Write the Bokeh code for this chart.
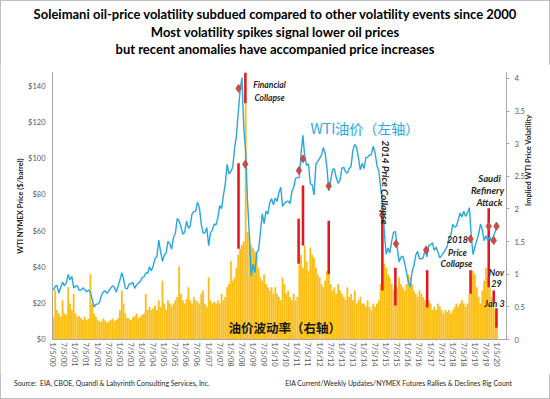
import math
import pandas as pd
from bokeh.plotting import figure
from bokeh.layouts import column
from bokeh.models import (Range1d, LinearAxis, FixedTicker, CustomJSTickFormatter,
                          Label, NumeralTickFormatter, Div)
from bokeh.embed import file_html
from bokeh.resources import INLINE

# ---------------- data ----------------
month_start = "2000-01-01"
n_months = 241

wti_price = [
    27.2, 29.4, 29.9, 25.7, 28.8, 31.8, 29.7, 31.3, 36.0, 33.1, 35.0, 28.5,
    29.6, 29.6, 27.2, 27.4, 28.6, 27.6, 26.4, 27.4, 26.2, 22.2, 18.0, 19.4,
    19.7, 20.7, 24.4, 26.2, 27.0, 25.5, 26.9, 28.4, 29.7, 28.9, 26.3, 29.4,
    32.9, 37.0, 33.6, 28.3, 28.1, 30.7, 30.8, 31.6, 28.3, 30.3, 31.1, 32.2,
    34.3, 34.7, 36.8, 36.7, 40.3, 38.0, 40.7, 44.9, 46.0, 55.0, 48.5, 43.3,
    46.8, 48.0, 54.3, 53.0, 50.0, 56.5, 58.7, 67.0, 65.6, 62.4, 58.3, 59.4,
    65.5, 61.6, 62.7, 69.4, 70.8, 70.9, 76.0, 73.0, 63.8, 58.9, 59.1, 62.0,
    52.0, 59.3, 60.4, 63.9, 63.5, 67.5, 74.1, 72.4, 79.9, 86.2, 97.0, 91.7,
    93.0, 95.4, 105.5, 112.6, 125.4, 138.0, 145.0, 116.7, 104.1, 76.6, 57.3, 35.0,
    41.7, 37.0, 47.9, 49.6, 59.0, 69.6, 64.2, 71.1, 69.4, 75.7, 78.0, 74.5,
    78.3, 76.4, 81.2, 84.3, 73.7, 75.3, 76.3, 76.6, 75.2, 81.9, 84.3, 89.2,
    89.6, 89.7, 102.9, 113.0, 101.3, 96.3, 97.3, 86.3, 85.5, 80.0, 97.2, 98.6,
    100.3, 102.2, 106.2, 103.3, 94.7, 82.3, 87.9, 94.1, 94.5, 89.5, 86.5, 87.9,
    94.8, 95.3, 92.9, 92.0, 94.5, 95.8, 104.6, 108.0, 106.3, 100.5, 93.9, 97.6,
    94.6, 100.8, 100.8, 102.1, 102.2, 107.0, 103.6, 96.5, 93.2, 84.4, 75.8, 59.3,
    47.2, 50.6, 47.8, 54.5, 59.3, 59.8, 50.9, 42.9, 45.5, 46.2, 42.4, 37.2,
    31.7, 29.0, 37.5, 40.8, 46.7, 48.8, 44.7, 44.7, 45.2, 49.8, 45.7, 52.0,
    52.5, 53.5, 49.3, 51.1, 48.5, 45.2, 46.6, 48.0, 49.8, 51.6, 56.6, 57.9,
    63.7, 62.2, 62.7, 66.3, 70.0, 67.9, 71.0, 68.1, 70.2, 73.0, 57.0, 47.0,
    51.4, 55.0, 58.2, 63.9, 60.8, 54.7, 57.4, 54.8, 57.0, 54.0, 57.0, 59.9,
    62.0,
]

implied_vol = [
    0.35, 0.75, 0.45, 0.40, 0.35, 0.60, 0.40, 0.38, 0.80, 0.55, 0.45, 0.70,
    0.40, 0.35, 0.36, 0.33, 0.30, 0.35, 0.30, 0.32, 1.00, 0.55, 0.40, 0.35,
    0.30, 0.28, 0.27, 0.32, 0.29, 0.26, 0.27, 0.30, 0.32, 0.28, 0.30, 0.33,
    0.45, 0.75, 0.55, 0.40, 0.33, 0.32, 0.30, 0.34, 0.36, 0.40, 0.33, 0.35,
    0.38, 0.40, 0.70, 0.45, 0.50, 0.45, 0.48, 0.52, 0.45, 0.60, 0.50, 0.90,
    0.55, 0.45, 0.60, 0.55, 0.50, 0.55, 0.60, 0.65, 1.12, 0.70, 0.60, 0.55,
    0.62, 0.80, 0.60, 0.55, 0.65, 0.60, 0.58, 0.55, 0.70, 0.75, 0.55, 0.50,
    0.95, 0.60, 0.55, 0.58, 0.55, 0.60, 0.55, 0.70, 0.60, 0.65, 0.80, 0.85,
    1.20, 0.90, 0.95, 1.10, 1.30, 1.39, 1.45, 1.50, 3.62, 1.65, 1.60, 1.45,
    1.40, 1.35, 1.30, 1.10, 0.95, 0.90, 1.00, 0.85, 0.80, 0.75, 0.80, 0.70,
    0.80, 0.70, 0.65, 0.60, 0.95, 0.85, 0.70, 0.75, 0.65, 0.60, 0.70, 0.60,
    0.65, 1.15, 1.30, 1.10, 1.44, 1.20, 1.05, 1.41, 1.30, 1.25, 1.10, 1.00,
    0.95, 0.85, 0.80, 0.90, 1.05, 1.00, 0.85, 0.75, 0.80, 0.70, 0.85, 0.75,
    0.70, 0.65, 0.60, 0.80, 0.65, 0.70, 0.60, 0.75, 0.55, 0.60, 0.65, 0.55,
    0.55, 0.50, 0.60, 0.50, 0.45, 0.55, 0.50, 0.55, 0.60, 0.85, 0.75, 1.16,
    1.10, 1.00, 0.95, 0.85, 0.75, 0.52, 0.80, 0.95, 0.85, 0.80, 0.75, 0.85,
    1.00, 0.95, 0.85, 0.75, 0.70, 0.65, 0.75, 0.70, 0.65, 0.60, 0.49, 0.60,
    0.55, 0.45, 0.50, 0.45, 0.55, 0.50, 0.45, 0.40, 0.45, 0.42, 0.45, 0.40,
    0.45, 0.50, 0.55, 0.50, 0.55, 0.60, 0.55, 0.50, 0.55, 0.70, 0.95, 1.05,
    1.00, 0.80, 0.65, 0.55, 0.75, 0.90, 1.10, 0.95, 0.80, 0.65, 0.57, 0.45,
    0.18,
]

spike_dates = ["2008-05-20", "2008-09-10", "2011-02-03", "2011-04-16", "2012-06-13",
               "2014-11-13", "2015-06-15", "2016-11-19", "2018-11-03", "2019-08-29",
               "2019-11-20", "2020-01-04"]
spike_low = [1.39, 3.62, 1.16, 1.44, 1.00, 0.75, 0.52, 0.49, 0.70, 0.80, 0.57, 0.18]
spike_high = [2.70, 4.09, 1.85, 2.36, 1.82, 1.90, 1.10, 1.06, 1.06, 2.01, 0.75, 0.48]

marker_dates = ["2008-05-22", "2008-09-08", "2011-02-08", "2011-04-16", "2012-06-13",
                "2014-11-10", "2015-06-25", "2016-11-03", "2018-11-03", "2019-08-29",
                "2019-11-20", "2020-01-04"]
marker_price = [139, 97, 93.5, 100, 85, 69, 53, 49.6, 55.7, 62.7, 54.8, 62.7]

price_ticks = [0, 20, 40, 60, 80, 100, 120, 140]
vol_ticks = [0, 0.5, 1, 1.5, 2, 2.5, 3, 3.5, 4]
tick_dates = [f"{y}-{m:02d}-05" for y in range(2000, 2020) for m in (1, 7)] + ["2020-01-05"]

title_lines = ["Soleimani oil-price volatility subdued compared to other volatility events since 2000",
               "Most volatility spikes signal lower oil prices",
               "but recent anomalies have accompanied price increases"]
source_left = "Source:&nbsp; EIA, CBOE, Quandl &amp; Labyrinth Consulting Services, Inc."
source_right = "EIA Current/Weekly Updates/NYMEX Futures Rallies &amp; Declines Rig Count"

# ---------------- derived ----------------
months = pd.date_range(month_start, periods=n_months, freq="MS") + pd.Timedelta(days=14)
spike_x = pd.to_datetime(spike_dates)
marker_x = pd.to_datetime(marker_dates)
tick_ms = [pd.Timestamp(t).timestamp() * 1000 for t in tick_dates]
DAY = 86400000

BLUE = "#29A8E0"
GOLD = "#FCBD14"
RED = "#E3171E"
DIAM = "#C94A48"
AX = "#A6A6A6"
LBL = "#595959"
DARK = "#262626"
FONT = "Lato"
CJK = "Noto Sans CJK SC"

p = figure(width=550, height=310, x_axis_type="datetime",
           x_range=Range1d(pd.Timestamp("2000-01-01"), pd.Timestamp("2020-06-17")),
           y_range=Range1d(0, 147.8),
           output_backend="svg", toolbar_location=None,
           min_border_left=52, min_border_right=44, min_border_top=8, min_border_bottom=35)
p.extra_y_ranges = {"vol": Range1d(0, 4.09)}
p.outline_line_color = None
p.xgrid.visible = False
p.ygrid.visible = False
p.background_fill_color = "white"
p.border_fill_color = "white"

# bars
p.vbar(x=months, top=implied_vol, width=30 * DAY, y_range_name="vol",
       fill_color=GOLD, line_color=None)
p.vbar(x=spike_x, bottom=spike_low, top=spike_high, width=42 * DAY, y_range_name="vol",
       fill_color=RED, line_color=None)
# price line
p.line(months, wti_price, line_color=BLUE, line_width=1.4)
p.scatter(marker_x, marker_price, marker="diamond", size=8, fill_color=DIAM, line_color=DIAM)

# axes
xa = p.xaxis[0]
xa.ticker = FixedTicker(ticks=tick_ms)
xa.formatter = CustomJSTickFormatter(code="""
const d = new Date(tick);
return (d.getUTCMonth()+1) + "/" + d.getUTCDate() + "/" + String(d.getUTCFullYear()).slice(2);
""")
xa.major_label_orientation = "vertical"
xa.major_label_text_font = FONT
xa.major_label_text_font_size = "7.5px"
xa.major_label_text_color = LBL
xa.major_label_standoff = 3
xa.major_tick_out = 0
xa.major_tick_in = 0
xa.minor_tick_out = 0
xa.minor_tick_in = 0
xa.axis_line_color = AX

ya = p.yaxis[0]
ya.ticker = FixedTicker(ticks=price_ticks)
ya.formatter = NumeralTickFormatter(format="$0")
ya.major_label_text_font = FONT
ya.major_label_text_font_size = "7.5px"
ya.major_label_text_color = LBL
ya.major_tick_out = 0
ya.major_tick_in = 0
ya.minor_tick_out = 0
ya.minor_tick_in = 0
ya.major_label_standoff = 7
ya.axis_line_color = AX
ya.axis_label = "WTI NYMEX Price ($/barrel)"
ya.axis_label_text_font = FONT
ya.axis_label_text_font_size = "7.5px"
ya.axis_label_text_font_style = "bold"
ya.axis_label_text_color = DARK
ya.axis_label_standoff = 0

ra = LinearAxis(y_range_name="vol", ticker=FixedTicker(ticks=vol_ticks),
                formatter=CustomJSTickFormatter(code="return tick.toString();"))
ra.major_label_text_font = FONT
ra.major_label_text_font_size = "7.5px"
ra.major_label_text_color = LBL
ra.major_tick_out = 3
ra.major_tick_in = 0
ra.minor_tick_out = 0
ra.minor_tick_in = 0
ra.major_tick_line_color = AX
ra.major_label_standoff = 5
ra.axis_line_color = AX
ra.axis_label = "Implied WTI Price Volatility"
ra.axis_label_text_font = FONT
ra.axis_label_text_font_size = "7.5px"
ra.axis_label_text_font_style = "bold"
ra.axis_label_text_color = DARK
ra.axis_label_standoff = 1
ra.axis_label_orientation = math.pi / 2
p.add_layout(ra, "right")


def lab(x, y, text, size="9px", style="bold italic", color=DARK, font=FONT,
        align="center", angle=0.0):
    p.add_layout(Label(x=x, y=y, x_units="screen", y_units="screen", text=text,
                       text_font=font, text_font_size=size, text_font_style=style,
                       text_color=color, text_align=align, text_baseline="middle",
                       angle=angle))

# annotations (screen offsets from the plot frame's lower-left corner)
lab(217, 255, "Financial", size="8.5px")
lab(217, 242, "Collapse", size="8.5px")
lab(258, 212, "WTI油价（左轴）", size="14px", style="normal", color=BLUE, font=CJK, align="left")
lab(176, 12, "油价波动率（右轴）", size="12.5px", style="bold", color="#1a1a1a", font=CJK, align="left")
lab(333, 157, "2014 Price Collapse", size="10px", angle=-1.5708)
lab(437, 161, "Saudi", size="9.5px")
lab(435, 149, "Refinery", size="9.5px")
lab(437, 137, "Attack", size="9.5px")
lab(405, 100, "2018", size="9px")
lab(405, 87, "Price", size="9px")
lab(404, 76, "Collapse", size="9px")
lab(444, 67, "Nov", size="9px")
lab(444, 56, "29", size="9px")
lab(442, 36, "Jan 3", size="9px")

title_html = (
    '<div style="width:550px;box-sizing:border-box;padding-top:6px;text-align:center;'
    'font-family:Lato;font-weight:bold;font-size:13px;line-height:17.5px;color:#000;">'
    + "<br>".join(title_lines) + "</div>"
)
footer_html = (
    '<div style="width:550px;box-sizing:border-box;padding:5px 38px 0 14px;display:flex;'
    'justify-content:space-between;font-family:Lato;font-size:6.9px;color:#262626;">'
    f"<span>{source_left}</span><span>{source_right}</span></div>"
)
title_div = Div(text=title_html, width=550, height=64, margin=(0, 0, 0, 0))
footer_div = Div(text=footer_html, width=550, height=25, margin=(0, 0, 0, 0))

page = column(title_div, p, footer_div, spacing=0, margin=(0, 0, 0, 0),
              styles={"outline": "1px solid #BFBFBF", "outline-offset": "-1px"})

open("out.html", "w").write(file_html(page, INLINE))
